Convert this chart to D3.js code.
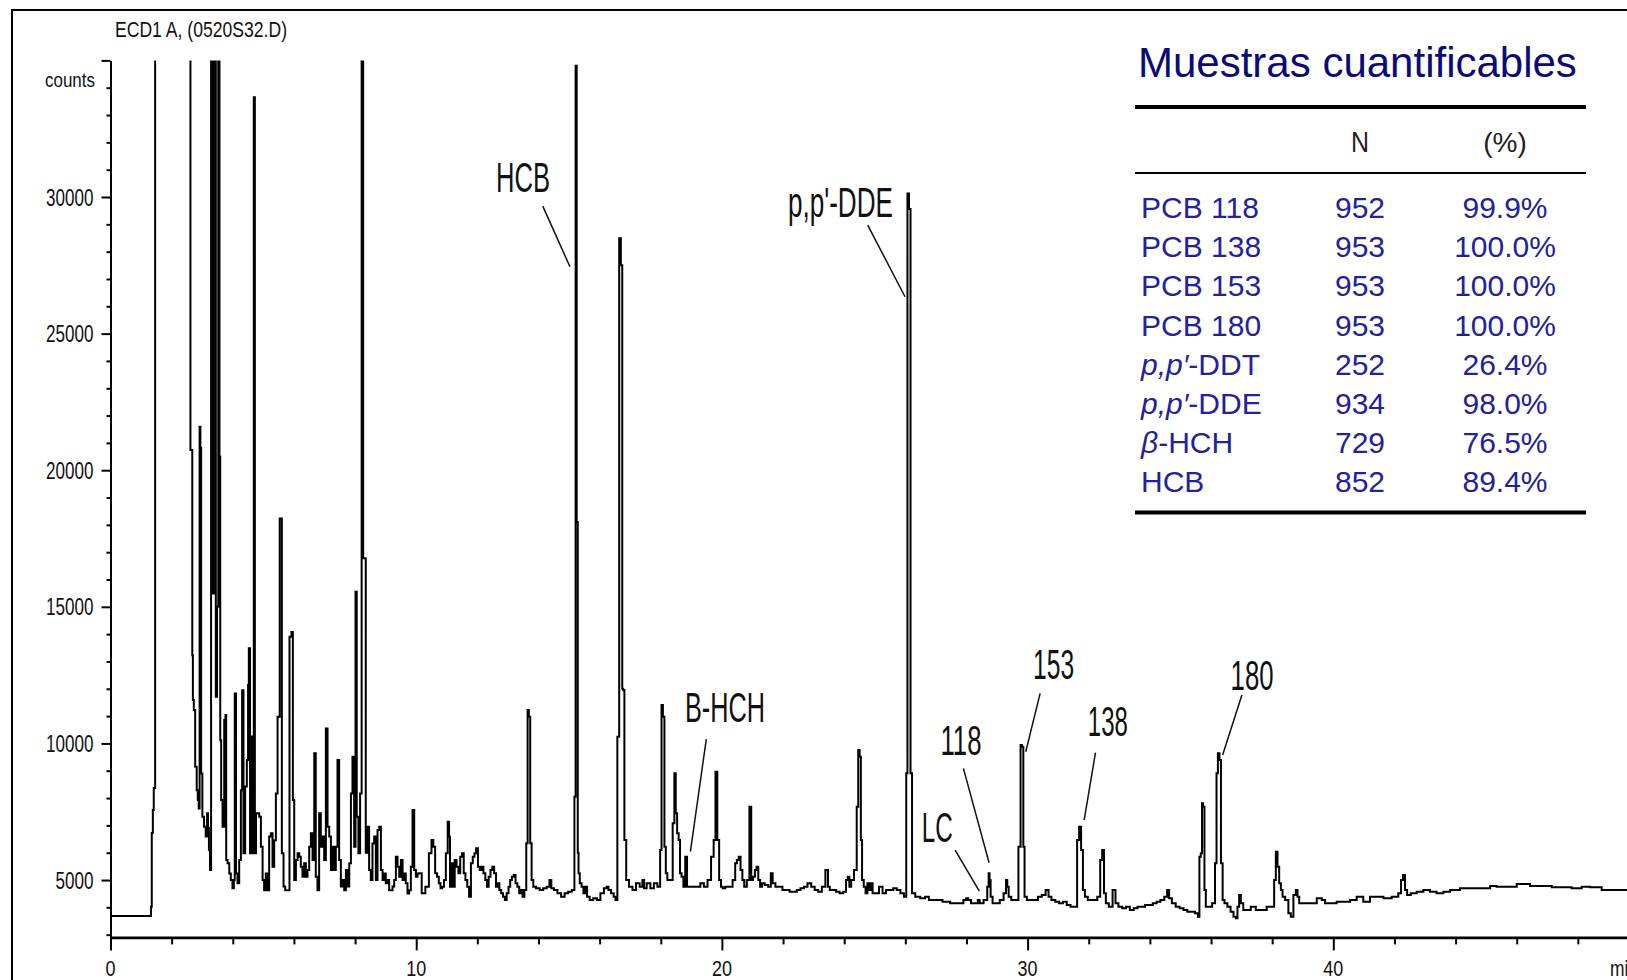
<!DOCTYPE html>
<html><head><meta charset="utf-8">
<script src="https://cdn.jsdelivr.net/npm/d3@7"></script>
<style>
html,body{margin:0;padding:0;background:#fff;}
svg{display:block;}
</style></head><body>
<svg id="chart" width="1627" height="980"></svg>
<script>
// ECD detector trace: [retention time (min), response (counts)]; 60000 marks an off-scale peak
const chromatogram = [
  [0,3680],[1.32,3680],[1.33,4020],[1.37,6720],[1.40,7560],[1.43,8370],[1.49,60000],
  [2.60,60000],[2.63,20740],[2.67,20740],[2.68,13230],[2.71,11590],[2.74,11220],[2.80,9150],[2.84,8290],
  [2.87,7930],[2.90,7620],[2.93,21590],[2.95,20810],[2.98,8900],[3.03,7320],[3.09,6950],[3.14,6590],
  [3.18,7440],[3.20,6900],[3.24,6100],[3.27,5370],[3.31,60000],[3.36,15490],[3.42,60000],[3.47,11710],
  [3.50,15000],[3.55,60000],[3.58,20490],[3.60,10120],[3.64,7930],[3.69,6950],[3.75,10860],[3.77,11040],
  [3.80,5730],[3.86,5610],[3.91,5240],[3.96,5000],[4.02,4700],[4.05,5000],[4.08,11830],[4.13,5240],
  [4.18,4880],[4.24,5730],[4.29,8290],[4.32,11950],[4.38,5980],[4.43,8420],[4.49,9390],[4.51,12140],
  [4.54,13480],[4.59,5980],[4.62,10250],[4.67,5980],[4.705,33650],[4.74,5980],[4.78,7440],[4.84,7440],
  [4.89,7320],[4.95,6220],[5.00,5000],[5.05,4630],[5.11,5240],[5.16,4630],[5.22,6590],[5.27,6710],
  [5.33,5490],[5.38,6460],[5.44,8170],[5.49,10980],[5.58,18230],[5.63,5980],[5.69,4760],[5.74,4630],
  [5.82,4630],[5.89,13900],[5.95,14080],[5.98,7930],[6.04,5000],[6.09,5730],[6.15,5980],[6.20,5850],
  [6.25,5490],[6.31,5120],[6.36,5610],[6.42,5120],[6.47,5370],[6.53,6220],[6.58,6710],[6.64,5730],
  [6.69,9640],[6.74,5120],[6.80,4630],[6.85,7440],[6.91,6220],[6.96,6590],[7.02,5730],[7.07,10550],
  [7.13,6950],[7.18,6590],[7.24,5370],[7.29,6220],[7.34,5370],[7.40,6220],[7.45,9390],[7.51,5730],
  [7.56,4760],[7.62,5000],[7.67,4630],[7.73,5370],[7.78,4760],[7.84,5610],[7.89,8170],[7.94,9510],
  [8.00,6220],[8.03,15550],[8.08,7320],[8.14,5980],[8.19,8170],[8.24,60000],[8.29,16780],[8.33,16780],
  [8.37,6000],[8.43,6950],[8.49,5370],[8.54,5000],[8.60,6340],[8.65,6590],[8.71,5000],[8.76,6830],
  [8.82,6950],[8.87,5370],[8.93,5000],[8.98,5240],[9.03,4880],[9.09,5000],[9.14,4630],[9.20,4630],
  [9.25,4760],[9.31,5000],[9.36,5850],[9.42,5490],[9.47,5120],[9.53,5730],[9.58,5000],[9.63,5240],
  [9.69,4880],[9.74,4510],[9.80,4630],[9.85,5490],[9.91,7560],[9.96,5370],[10.02,5120],[10.07,5240],
  [10.12,5244],[10.24,4512],[10.36,4756],[10.47,5976],[10.53,6464],[10.59,6220],[10.65,5244],[10.71,5122],
  [10.77,4878],[10.82,4695],[10.88,4756],[10.94,5000],[11.00,5976],[11.06,7135],[11.09,6586],[11.12,4756],
  [11.18,5610],[11.23,4756],[11.29,5732],[11.35,5488],[11.41,5244],[11.47,5854],[11.53,5976],[11.58,5244],
  [11.64,5000],[11.70,4756],[11.76,4390],[11.82,5610],[11.88,5854],[11.93,5976],[11.99,6159],[12.05,5488],
  [12.11,5366],[12.17,5488],[12.23,5244],[12.29,5000],[12.34,4756],[12.40,5122],[12.46,5366],[12.52,5488],
  [12.58,5244],[12.64,4756],[12.69,4878],[12.75,4634],[12.81,4512],[12.87,4390],[12.93,4268],[12.99,4512],
  [13.05,4756],[13.10,5000],[13.16,5122],[13.22,5183],[13.28,4878],[13.34,4756],[13.40,4512],[13.45,4634],
  [13.51,4390],[13.57,4634],[13.63,6342],[13.66,11222],[13.71,10978],[13.75,6342],[13.80,5000],[13.86,4756],
  [13.98,4695],[14.10,4634],[14.21,4695],[14.33,4756],[14.39,5000],[14.45,4695],[14.56,4634],[14.68,4512],
  [14.80,4390],[14.91,4512],[15.03,4573],[15.15,4634],[15.20,8050],[15.23,34800],[15.27,18100],[15.30,6000],
  [15.32,5244],[15.38,4878],[15.44,4756],[15.50,4512],[15.56,4756],[15.62,4390],[15.73,4268],[15.85,4329],
  [15.97,4268],[16.08,4512],[16.20,4695],[16.26,4756],[16.32,4634],[16.43,4512],[16.49,4390],[16.55,4268],
  [16.61,10246],[16.67,28490],[16.72,27500],[16.76,12000],[16.78,11954],[16.84,6464],[16.90,5000],[17.02,4756],
  [17.13,4634],[17.25,4878],[17.37,4756],[17.43,5000],[17.48,4695],[17.60,4878],[17.72,4695],[17.83,4878],
  [17.95,4756],[18.01,6098],[18.04,11405],[18.10,10978],[18.14,6220],[18.19,5244],[18.24,5000],[18.30,5000],
  [18.36,5000],[18.42,7074],[18.47,8904],[18.51,7440],[18.56,6708],[18.61,6464],[18.65,5244],[18.71,5122],
  [18.77,4756],[18.83,5854],[18.89,4756],[19.00,4756],[19.12,4756],[19.24,4756],[19.35,4878],[19.47,4756],
  [19.59,5000],[19.70,5854],[19.76,6464],[19.82,8965],[19.88,6464],[19.94,5000],[20.00,4756],[20.05,4695],
  [20.17,4756],[20.29,4756],[20.41,5000],[20.46,5610],[20.52,5732],[20.58,5854],[20.64,5366],[20.70,5000],
  [20.76,4756],[20.87,5000],[20.93,7684],[20.99,5000],[21.05,5122],[21.11,5366],[21.16,5488],[21.22,5000],
  [21.28,4756],[21.34,4878],[21.46,4817],[21.57,4756],[21.63,5244],[21.69,4878],[21.81,4756],[21.92,4756],
  [22.04,4634],[22.16,4634],[22.27,4573],[22.39,4573],[22.51,4634],[22.63,4695],[22.74,4756],[22.86,4878],
  [22.98,4756],[23.09,4634],[23.21,4573],[23.33,4756],[23.44,5366],[23.50,4756],[23.56,4634],[23.68,4634],
  [23.79,4573],[23.91,4512],[24.03,4573],[24.09,5000],[24.14,5122],[24.20,4756],[24.26,5000],[24.38,5366],
  [24.44,7684],[24.48,9758],[24.53,9514],[24.56,6464],[24.61,5000],[24.67,4756],[24.73,4512],[24.79,4878],
  [24.84,4634],[24.90,4878],[24.96,4512],[25.08,4512],[25.20,4756],[25.31,4512],[25.43,4634],[25.55,4634],
  [25.66,4695],[25.78,4634],[25.90,4512],[26.01,4390],[26.05,8904],[26.09,30130],[26.15,29560],[26.19,8904],
  [26.25,4512],[26.40,4390],[26.58,4329],[26.71,4390],[26.83,4268],[27.09,4268],[27.34,4207],[27.59,4146],
  [27.84,4146],[27.96,4268],[28.02,4329],[28.09,4268],[28.21,4146],[28.34,4146],[28.40,4268],[28.46,4146],
  [28.53,4146],[28.59,4268],[28.65,4268],[28.71,4756],[28.74,5244],[28.77,5000],[28.81,4390],[28.90,4146],
  [29.03,4146],[29.15,4268],[29.28,4512],[29.31,5000],[29.36,4756],[29.40,4390],[29.53,4268],[29.65,4268],
  [29.75,6220],[29.79,9941],[29.84,9880],[29.88,6220],[29.92,4390],[30.03,4268],[30.15,4268],[30.28,4268],
  [30.40,4390],[30.53,4451],[30.65,4634],[30.72,4390],[30.84,4268],[30.97,4207],[31.09,4146],[31.22,4207],
  [31.34,4085],[31.47,4024],[31.59,4024],[31.65,6464],[31.72,6952],[31.78,6098],[31.84,4634],[31.91,4390],
  [32.03,4268],[32.22,4268],[32.34,4390],[32.41,5732],[32.47,6098],[32.53,4512],[32.59,4146],[32.72,4024],
  [32.84,4634],[32.91,4146],[33.03,4024],[33.16,3963],[33.28,4024],[33.41,3902],[33.53,3963],[33.66,4024],
  [33.78,4024],[33.91,4085],[34.03,4085],[34.16,4146],[34.28,4207],[34.41,4268],[34.53,4390],[34.60,4634],
  [34.66,4329],[34.78,4146],[34.91,4024],[35.04,3963],[35.16,3902],[35.29,3841],[35.41,3841],[35.54,3780],
  [35.60,3658],[35.64,5854],[35.69,5976],[35.72,7806],[35.76,7684],[35.81,4634],[35.85,4024],[35.97,4024],
  [36.10,4146],[36.16,5610],[36.20,8904],[36.25,9636],[36.30,9392],[36.35,5610],[36.41,4268],[36.47,4146],
  [36.60,4024],[36.68,3841],[36.79,3658],[36.84,3597],[36.89,4024],[36.95,4451],[37.00,4146],[37.11,3902],
  [37.22,3902],[37.38,4024],[37.55,3902],[37.71,3902],[37.93,4024],[38.04,4024],[38.09,5000],[38.15,6037],
  [38.20,5488],[38.26,4878],[38.31,4634],[38.37,4390],[38.48,4268],[38.58,3780],[38.64,3658],[38.75,4451],
  [38.80,4634],[38.86,4390],[38.91,4146],[39.13,4146],[39.35,4146],[39.57,4329],[39.68,4268],[39.78,4146],
  [40.00,4146],[40.22,4207],[40.44,4207],[40.66,4268],[40.87,4390],[41.09,4207],[41.31,4390],[41.53,4390],
  [41.75,4329],[42.07,4390],[42.18,4512],[42.25,5000],[42.31,5183],[42.38,4634],[42.45,4451],[42.62,4512],
  [42.84,4573],[43.05,4634],[43.27,4573],[43.49,4512],[43.71,4573],[43.93,4634],[44.36,4695],[44.58,4695],
  [45.02,4695],[45.24,4780],[45.45,4756],[45.89,4756],[46.11,4854],[46.33,4854],[46.54,4780],[46.76,4780],
  [47.09,4780],[47.20,4732],[47.63,4732],[47.96,4695],[48.29,4756],[48.51,4732],[49.05,4634],[49.61,4634]
];

// axis ticks
const yMajorTicks = [5000, 10000, 15000, 20000, 25000, 30000, 35000];
const yMinorTicks = d3.range(3000, 35000, 1000).filter(v => v % 5000 !== 0);
const xMajorTicks = [0, 10, 20, 30, 40];
const xMinorTicks = d3.range(2, 50, 2).filter(v => v % 10 !== 0);

// peak annotations: label anchor (min, counts) and leader line from/to (min, counts)
const peakNames   = ["HCB", "p,p'-DDE", "B-HCH", "LC", "118", "153", "138", "180"];
const labelAt     = [[12.61,30181],[22.16,29255],[18.79,10772],[26.54,6402],[27.15,9575],[30.18,12346],[31.97,10281],[36.64,11954]];
const leaderFrom  = [[14.14,29668],[24.77,28973],[19.49,10161],[27.63,6098],[27.90,9088],[30.41,11833],[32.22,9659],[37.01,11771]];
const leaderTo    = [[15.03,27447],[25.99,26349],[18.97,6036],[28.42,4597],[28.74,5633],[29.94,9696],[31.85,7196],[36.38,9575]];

// quantifiable samples table
const tableTitle = "Muestras cuantificables";
const compounds  = ["PCB 118", "PCB 138", "PCB 153", "PCB 180", "p,p′-DDT", "p,p′-DDE", "β-HCH", "HCB"];
const nSamples   = [952, 953, 953, 953, 252, 934, 729, 852];
const pctSamples = [99.9, 100.0, 100.0, 100.0, 26.4, 98.0, 76.5, 89.4];

const W = 1627, H = 980;
const SANS = "'Liberation Sans',Arial,sans-serif";
const INK = "#111";

const svg = d3.select("#chart");
svg.append("rect").attr("width", W).attr("height", H).attr("fill", "#fff");

// condensed instrument-style lettering: regular sans squeezed to a set width
function narrowText(sel, str, size, width) {
  return sel.attr("font-family", SANS).attr("font-size", size).attr("fill", INK)
    .attr("textLength", width).attr("lengthAdjust", "spacingAndGlyphs").text(str);
}

// outer frame
svg.append("rect").attr("x", 12).attr("y", 10).attr("width", 1640).attr("height", 1000)
  .attr("fill", "none").attr("stroke", "#000").attr("stroke-width", 2);

const x = d3.scaleLinear().domain([0, 50]).range([110.5, 1639]);
const y = d3.scaleLinear().domain([2900, 35000]).range([937.4, 60.4]);

// header
narrowText(svg.append("text").attr("x", 115).attr("y", 37), "ECD1 A, (0520S32.D)", 22, 172);
narrowText(svg.append("text").attr("x", 45).attr("y", 87), "counts", 21, 50);

// y axis
const yMinor = svg.append("g").attr("transform", `translate(${x(0)},0)`)
  .call(d3.axisLeft(y).tickValues(yMinorTicks).tickSize(4).tickSizeOuter(0).tickFormat(""));
const yMajor = svg.append("g").attr("transform", `translate(${x(0)},0)`)
  .call(d3.axisLeft(y).tickValues(yMajorTicks).tickSize(9).tickSizeOuter(0).tickFormat(""));
[yMinor, yMajor].forEach(g => { g.selectAll("line,path").attr("stroke", "#000").attr("stroke-width", 2); });
yMajorTicks.filter(v => v < 35000).forEach(v => {
  const s = String(v), w = s.length * 9.5;
  narrowText(svg.append("text").attr("x", 93.5 - w).attr("y", y(v) + 8.5), s, 24, w);
});

// x axis
const xMinor = svg.append("g").attr("transform", `translate(0,${y(2900)})`)
  .call(d3.axisBottom(x).tickValues(xMinorTicks).tickSize(7).tickSizeOuter(0).tickFormat(""));
const xMajor = svg.append("g").attr("transform", `translate(0,${y(2900)})`)
  .call(d3.axisBottom(x).tickValues(xMajorTicks).tickSize(13).tickSizeOuter(0).tickFormat(""));
[xMinor, xMajor].forEach(g => { g.selectAll("line,path").attr("stroke", "#000").attr("stroke-width", 2); });
xMajor.select("path").attr("stroke-width", 2.6);
xMajorTicks.forEach(v => {
  const s = String(v), w = s.length * 10;
  narrowText(svg.append("text").attr("x", x(v) - w / 2).attr("y", 976), s, 22, w);
});
narrowText(svg.append("text").attr("x", x(49.05)).attr("y", 976), "min", 22, 28);

// trace, clipped to the plotting range
svg.append("defs").append("clipPath").attr("id", "plotClip").append("rect")
  .attr("x", x(0)).attr("y", y(35000)).attr("width", W - x(0)).attr("height", y(2900) - y(35000));
const line = d3.line().x(d => x(d[0])).y(d => y(d[1])).curve(d3.curveStep);
svg.append("path").datum(chromatogram).attr("d", line).attr("clip-path", "url(#plotClip)")
  .attr("fill", "none").attr("stroke", "#000").attr("stroke-width", 2).attr("stroke-linejoin", "miter");

// peak labels and leader lines
const labelWidth = { "HCB": 54, "p,p'-DDE": 105, "B-HCH": 80, "LC": 31, "118": 41, "153": 41, "138": 40, "180": 43 };
const ann = svg.append("g");
peakNames.forEach((name, i) => {
  narrowText(ann.append("text").attr("x", x(labelAt[i][0])).attr("y", y(labelAt[i][1])), name, 42, labelWidth[name]);
  ann.append("line").attr("x1", x(leaderFrom[i][0])).attr("y1", y(leaderFrom[i][1]))
    .attr("x2", x(leaderTo[i][0])).attr("y2", y(leaderTo[i][1]))
    .attr("stroke", INK).attr("stroke-width", 1.5);
});

// table
const tbl = svg.append("g");
tbl.append("text").attr("x", 1138).attr("y", 77).attr("font-family", SANS).attr("font-size", 42)
  .attr("fill", "#0a0a78").text(tableTitle);
tbl.append("line").attr("x1", 1135).attr("x2", 1586).attr("y1", 107).attr("y2", 107).attr("stroke", "#000").attr("stroke-width", 4);
tbl.append("line").attr("x1", 1135).attr("x2", 1586).attr("y1", 173).attr("y2", 173).attr("stroke", "#000").attr("stroke-width", 2.2);
tbl.append("line").attr("x1", 1135).attr("x2", 1586).attr("y1", 512.5).attr("y2", 512.5).attr("stroke", "#000").attr("stroke-width", 4);
narrowText(tbl.append("text").attr("x", 1351).attr("y", 152), "N", 29, 18).attr("fill", "#222");
tbl.append("text").attr("x", 1505).attr("y", 152).attr("text-anchor", "middle").attr("font-family", SANS)
  .attr("font-size", 28).attr("fill", "#222").text("(%)");

const rowColor = "#22229e";
compounds.forEach((c, i) => {
  const by = 218 + i * 39.2;
  const t = tbl.append("text").attr("x", 1141).attr("y", by).attr("font-family", SANS)
    .attr("font-size", 30).attr("fill", rowColor);
  const m = c.match(/^(p,p′|β)(.*)$/);
  if (m) {
    t.append("tspan").attr("font-style", "italic").text(m[1]);
    t.append("tspan").text(m[2]);
  } else {
    t.text(c);
  }
  tbl.append("text").attr("x", 1360).attr("y", by).attr("text-anchor", "middle").attr("font-family", SANS)
    .attr("font-size", 30).attr("fill", rowColor).text(nSamples[i]);
  tbl.append("text").attr("x", 1505).attr("y", by).attr("text-anchor", "middle").attr("font-family", SANS)
    .attr("font-size", 30).attr("fill", rowColor).text(pctSamples[i].toFixed(1) + "%");
});
</script>
</body></html>
